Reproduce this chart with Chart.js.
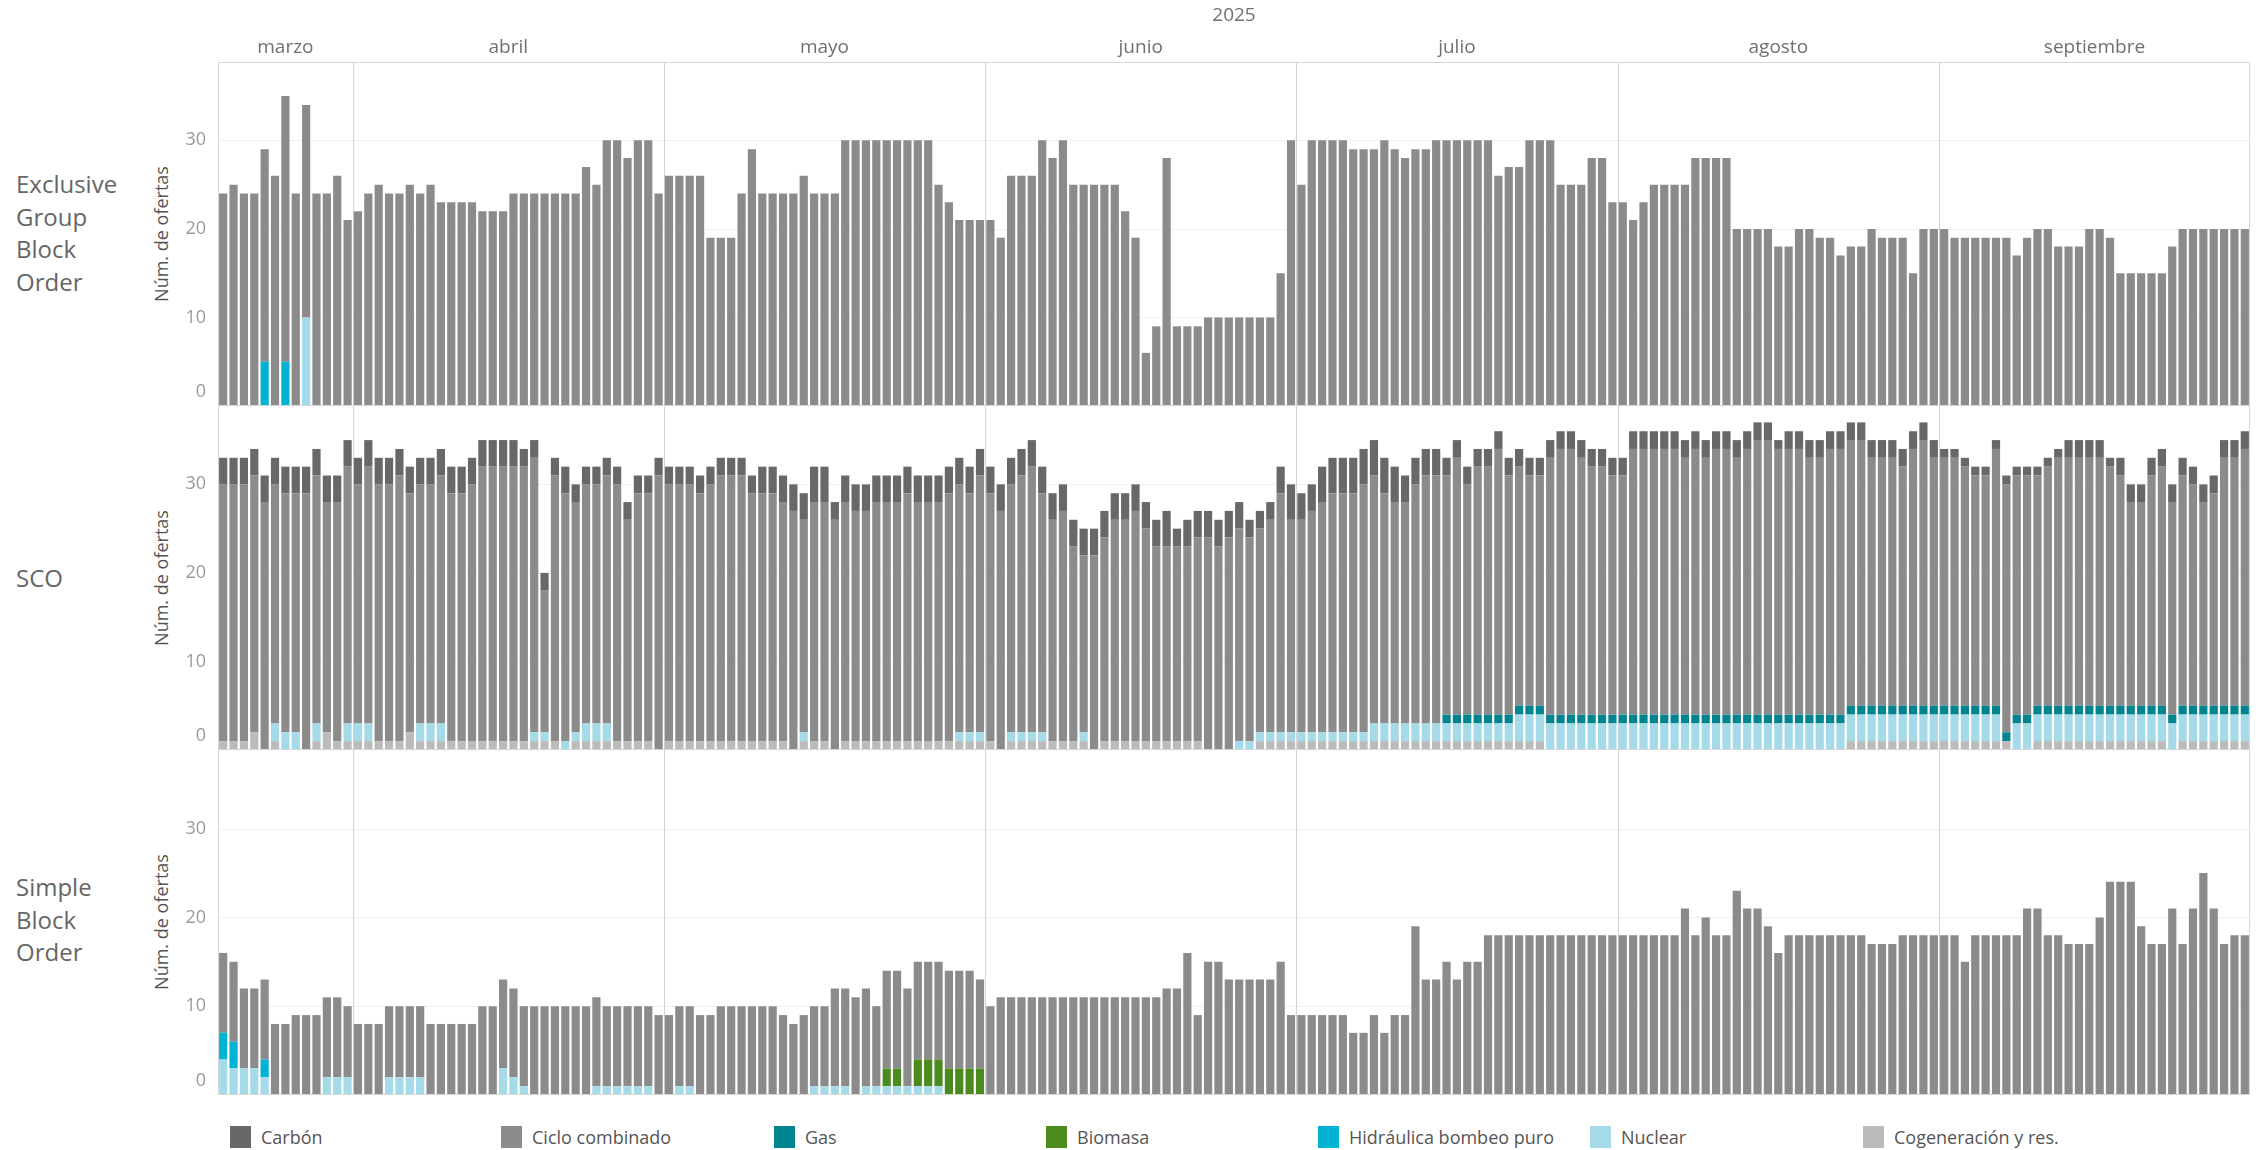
<!DOCTYPE html>
<html lang="es">
<head>
<meta charset="utf-8">
<title>Núm. de ofertas por tipo de oferta y tecnología</title>
<script src="https://cdn.jsdelivr.net/npm/chart.js@4.4.1/dist/chart.umd.min.js"></script>
<style>
  html, body { margin: 0; padding: 0; background: #fff; }
  body { width: 2259px; height: 1150px; position: relative; overflow: hidden;
         font-family: "Open Sans", "Noto Sans", sans-serif; }
  canvas { position: absolute; left: 0; }
  .row-label { position: absolute; left: 16px; color: #666; font-size: 24px; line-height: 32.5px;
               transform: translateY(-50%); }
  .axis-title { position: absolute; left: 161px; color: #555; font-size: 18px; white-space: nowrap;
                transform: translate(-50%, -50%) rotate(-90deg); }
  .legend-item { position: absolute; top: 1126px; height: 22px; display: flex; align-items: center;
                 color: #555; font-size: 18px; white-space: nowrap; }
  .legend-item span { display: inline-block; width: 21px; height: 22px; margin-right: 10px; }
</style>
</head>
<body>

<div class="row-label" style="top:233px">Exclusive<br>Group<br>Block<br>Order</div>
<div class="row-label" style="top:578px">SCO</div>
<div class="row-label" style="top:920px">Simple<br>Block<br>Order</div>

<div class="axis-title" style="top:234px">Núm. de ofertas</div>
<div class="axis-title" style="top:578px">Núm. de ofertas</div>
<div class="axis-title" style="top:922px">Núm. de ofertas</div>

<canvas id="egbo" width="2259" height="406" style="top:0px"></canvas>
<canvas id="sco" width="2259" height="344" style="top:406px"></canvas>
<canvas id="sbo" width="2259" height="345" style="top:750px"></canvas>

<div id="legend"></div>

<script>
// ---------------- CATEGORÍAS ----------------
const yearLabel = "2025";
const monthNames = ["marzo", "abril", "mayo", "junio", "julio", "agosto", "septiembre"];
const monthDayCounts = [13, 30, 31, 30, 31, 31, 30];
const firstDay = 19;
const yTicks = [0, 10, 20, 30];
const yMax = 38.85;

const techNames = ["Carbón", "Ciclo combinado", "Gas", "Biomasa", "Hidráulica bombeo puro", "Nuclear", "Cogeneración y res."];
const techColors = ["#686868", "#8b8b8b", "#008490", "#4b8b1e", "#00b2d3", "#a5dbe9", "#bbbbbb"];

// ---------------- EXCLUSIVE GROUP BLOCK ORDER ----------------
const egboCiclo = [
  24,25,24,24,24,26,30,24,24,24,24,26,21,
  22,24,25,24,24,25,24,25,23,23, 23,23,22,22,22,24,24,24,24,24, 24,24,27,25,30,30,28,30,30,24,
  26,26,26,26,19,19,19,24,29,24, 24,24,24,26,24,24,24,30,30,30, 30,30,30,30,30,30,25,23,21,21, 21,
  21,19,26,26,26,30,28,30,25,25, 25,25,25,22,19,6,9,28,9,9, 9,10,10,10,10,10,10,10,15,30,
  25,30,30,30,30,29,29,29,30,29, 28,29,29,30,30,30,30,30,30,26, 27,27,30,30,30,25,25,25,28,28, 23,
  23,21,23,25,25,25,25,28,28,28, 28,20,20,20,20,18,18,20,20,19, 19,17,18,18,20,19,19,19,15,20, 20,
  20,19,19,19,19,19,19,17,19,20, 20,18,18,18,20,20,19,15,15,15, 15,15,18,20,20,20,20,20,20,20
];
const egboHidraulica = [["23 marzo", 5], ["25 marzo", 5]];
const egboNuclear = [["27 marzo", 10]];

// ---------------- SCO ----------------
const scoCogeneracion = [
  1,1,1,2,0,1,0,0,0,1,2,1,1,
  1,1,1,1,1,2,1,1,1,1, 1,1,1,1,1,1,1,1,1,1, 0,1,1,1,1,1,1,1,1,0,
  1,1,1,1,1,1,1,1,1,1, 1,1,0,1,1,1,0,1,1,1, 1,1,1,1,1,1,1,1,1,1, 1,
  1,0,1,1,1,1,1,1,1,1, 0,1,1,1,1,1,1,1,1,1, 1,0,0,0,0,0,1,1,1,1,
  1,1,1,1,1,1,1,1,1,1, 1,1,1,1,1,1,1,1,1,1, 1,1,1,1,0,0,0,0,0,0, 0,
  0,0,0,0,0,0,0,0,0,0, 0,0,0,0,0,0,0,0,0,0, 0,0,1,1,1,1,1,1,1,1, 1,
  1,1,1,1,1,1,1,0,0,1, 1,1,1,1,1,1,1,1,1,1, 1,1,0,1,1,1,1,1,1,1
];
const scoNuclear = [
  0,0,0,0,0,2,2,2,0,2,0,0,2,
  2,2,0,0,0,0,2,2,2,0, 0,0,0,0,0,0,0,1,1,0, 1,1,2,2,2,0,0,0,0,0,
  0,0,0,0,0,0,0,0,0,0, 0,0,0,1,0,0,0,0,0,0, 0,0,0,0,0,0,0,0,1,1, 1,
  0,0,1,1,1,1,0,0,0,1, 0,0,0,0,0,0,0,0,0,0, 0,0,0,0,1,1,1,1,1,1,
  1,1,1,1,1,1,1,2,2,2, 2,2,2,2,2,2,2,2,2,2, 2,3,3,3,3,3,3,3,3,3, 3,
  3,3,3,3,3,3,3,3,3,3, 3,3,3,3,3,3,3,3,3,3, 3,3,3,3,3,3,3,3,3,3, 3,
  3,3,3,3,3,3,0,3,3,3, 3,3,3,3,3,3,3,3,3,3, 3,3,3,3,3,3,3,3,3,3
];
const scoGas = [
  0,0,0,0,0,0,0,0,0,0,0,0,0,
  0,0,0,0,0,0,0,0,0,0, 0,0,0,0,0,0,0,0,0,0, 0,0,0,0,0,0,0,0,0,0,
  0,0,0,0,0,0,0,0,0,0, 0,0,0,0,0,0,0,0,0,0, 0,0,0,0,0,0,0,0,0,0, 0,
  0,0,0,0,0,0,0,0,0,0, 0,0,0,0,0,0,0,0,0,0, 0,0,0,0,0,0,0,0,0,0,
  0,0,0,0,0,0,0,0,0,0, 0,0,0,0,1,1,1,1,1,1, 1,1,1,1,1,1,1,1,1,1, 1,
  1,1,1,1,1,1,1,1,1,1, 1,1,1,1,1,1,1,1,1,1, 1,1,1,1,1,1,1,1,1,1, 1,
  1,1,1,1,1,1,1,1,1,1, 1,1,1,1,1,1,1,1,1,1, 1,1,1,1,1,1,1,1,1,1
];
const scoCiclo = [
  29,29,29,29,28,27,27,27,29,28,26,27,29,
  27,29,29,29,30,27,27,27,28,28, 28,29,31,31,31,31,31,31,16,30, 28,26,27,27,28,29,25,28,28,31,
  29,29,29,28,29,30,30,30,28,28, 28,27,27,24,27,27,26,27,26,26, 27,27,27,28,27,27,27,28,28,27, 29,
  28,27,28,29,30,27,25,26,22,20, 22,23,25,25,26,24,22,22,22,22, 23,24,23,24,24,23,23,24,27,24,
  24,25,26,27,27,27,28,28,26,25, 25,27,28,28,27,29,26,28,28,30, 27,27,26,26,29,30,30,29,28,28, 27,
  27,30,30,30,30,30,29,30,29,30, 30,29,30,31,31,30,30,30,29,29, 30,30,30,30,28,28,28,27,29,30, 28,
  28,28,27,26,26,29,28,27,27,26, 27,28,28,28,28,28,27,26,23,23, 26,27,24,26,25,23,24,28,28,29
];
const scoCarbon = [
  3,3,3,3,3,3,3,3,3,3,3,3,3,
  3,3,3,3,3,3,3,3,3,3, 3,3,3,3,3,3,2,2,2,2, 3,2,2,2,2,2,2,2,2,2,
  2,2,2,2,2,2,2,2,2,3, 3,3,3,3,4,4,2,3,3,3, 3,3,3,3,3,3,3,3,3,3, 3,
  3,3,3,3,3,3,3,3,3,3, 3,3,3,3,3,3,3,4,2,3, 3,3,3,3,3,2,2,2,3,4,
  3,3,4,4,4,4,4,4,4,4, 3,3,3,3,2,2,2,2,2,2, 2,2,2,2,2,2,2,2,2,2, 2,
  2,2,2,2,2,2,2,2,2,2, 2,2,2,2,2,1,2,2,2,2, 2,2,2,2,2,2,2,2,2,2, 2,
  1,1,1,1,1,1,1,1,1,1, 1,1,2,2,2,2,1,2,2,2, 2,2,2,2,2,2,2,2,2,2
];

// ---------------- SIMPLE BLOCK ORDER ----------------
const sboCiclo = [
  9,9,9,9,9,8,8,9,9,9,9,9,8,
  8,8,8,8,8,8,8,8,8,8, 8,8,10,10,10,10,9,10,10,10, 10,10,10,10,9,9,9,9,9,9,
  9,9,9,9,9,10,10,10,10,10, 10,9,8,9,9,9,11,11,11,11, 9,11,11,11,11,11,11,11,11,11, 10,
  10,11,11,11,11,11,11,11,11,11, 11,11,11,11,11,11,11,12,12,16, 9,15,15,13,13,13,13,13,15,9,
  9,9,9,9,9,7,7,9,7,9, 9,19,13,13,15,13,15,15,18,18, 18,18,18,18,18,18,18,18,18,18, 18,
  18,18,18,18,18,18,21,18,20,18, 18,23,21,21,19,16,18,18,18,18, 18,18,18,18,17,17,17,18,18,18, 18,
  18,18,15,18,18,18,18,18,21,21, 18,18,17,17,17,20,24,24,24,19, 17,17,21,17,21,25,21,17,18,18
];
const sboNuclear = [
  ["19 marzo", 4], ["20 marzo", 3], ["21 marzo", 3], ["22 marzo", 3], ["23 marzo", 2],
  ["29 marzo", 2], ["30 marzo", 2], ["31 marzo", 2],
  ["4 abril", 2], ["5 abril", 2], ["6 abril", 2], ["7 abril", 2],
  ["15 abril", 3], ["16 abril", 2], ["17 abril", 1],
  ["24 abril", 1], ["25 abril", 1], ["26 abril", 1], ["27 abril", 1], ["28 abril", 1], ["29 abril", 1],
  ["2 mayo", 1], ["3 mayo", 1], ["15 mayo", 1], ["16 mayo", 1], ["17 mayo", 1], ["18 mayo", 1],
  ["20 mayo", 1], ["21 mayo", 1], ["22 mayo", 1], ["23 mayo", 1], ["24 mayo", 1],
  ["25 mayo", 1], ["26 mayo", 1], ["27 mayo", 1]
];
const sboHidraulica = [["19 marzo", 3], ["20 marzo", 3], ["23 marzo", 2]];
const sboBiomasa = [
  ["22 mayo", 2], ["23 mayo", 2], ["25 mayo", 3], ["26 mayo", 3], ["27 mayo", 3],
  ["28 mayo", 3], ["29 mayo", 3], ["30 mayo", 3], ["31 mayo", 3]
];

// ---------------- LABELS ----------------
const dayLabels = [];
const monthStartIdx = [];
monthNames.forEach((name, m) => {
  monthStartIdx.push(dayLabels.length);
  const start = m === 0 ? firstDay : 1;
  for (let k = 0; k < monthDayCounts[m]; k++) dayLabels.push(`${start + k} ${name}`);
});

[egboCiclo, scoCogeneracion, scoNuclear, scoGas, scoCiclo, scoCarbon, sboCiclo].forEach((arr, i) => {
  if (arr.length !== dayLabels.length) throw new Error(`serie ${i}: ${arr.length} != ${dayLabels.length}`);
});

const pairs = (list) => list.map(([x, y]) => ({ x, y }));
const color = (name) => techColors[techNames.indexOf(name)];

// ---------------- FRAME / TICKS PLUGIN ----------------
const panelFrame = {
  id: "panelFrame",
  beforeDatasetsDraw(chart) {
    const { ctx, chartArea: a, scales: { x, y } } = chart;
    ctx.save();
    ctx.lineWidth = 1;
    ctx.strokeStyle = "#f0f0f0";
    yTicks.forEach((v) => {
      if (v === 0) return;
      const py = Math.round(y.getPixelForValue(v)) + 0.5;
      ctx.beginPath(); ctx.moveTo(a.left, py); ctx.lineTo(a.right, py); ctx.stroke();
    });
    ctx.strokeStyle = "#d4d4d4";
    monthStartIdx.slice(1).forEach((i) => {
      const px = Math.round((x.getPixelForValue(i - 1) + x.getPixelForValue(i)) / 2) + 0.5;
      ctx.beginPath(); ctx.moveTo(px, a.top); ctx.lineTo(px, a.bottom); ctx.stroke();
    });
    ctx.restore();
  },
  afterDraw(chart, args, opts) {
    const { ctx, chartArea: a, scales: { x, y } } = chart;
    ctx.save();
    ctx.strokeStyle = "#d6d6d6";
    ctx.lineWidth = 1;
    const l = Math.round(a.left) + 0.5, r = Math.round(a.right) - 0.5;
    const t = Math.round(a.top) + 0.5, b = Math.round(a.bottom) - 0.5;
    ctx.beginPath();
    if (opts.header) { ctx.moveTo(l, t); ctx.lineTo(r, t); }
    ctx.moveTo(l, b); ctx.lineTo(r, b);
    ctx.moveTo(l, a.top); ctx.lineTo(l, a.bottom);
    ctx.moveTo(r, a.top); ctx.lineTo(r, a.bottom);
    ctx.stroke();

    ctx.fillStyle = "#9a9a9a";
    ctx.font = '18px "Open Sans"';
    ctx.textAlign = "right";
    ctx.textBaseline = "middle";
    yTicks.forEach((v) => {
      const py = Math.min(y.getPixelForValue(v), a.bottom - 14);
      ctx.fillText(String(v), a.left - 12, py);
    });

    if (opts.header) {
      ctx.fillStyle = "#707070";
      ctx.font = '19px "Open Sans"';
      ctx.textAlign = "center";
      ctx.fillText(yearLabel, (a.left + a.right) / 2, 16);
      monthNames.forEach((name, m) => {
        const i0 = monthStartIdx[m], i1 = i0 + monthDayCounts[m] - 1;
        const cx = (x.getPixelForValue(i0) + x.getPixelForValue(i1)) / 2;
        ctx.fillText(name, cx, 48);
      });
    }
    ctx.restore();
  },
};

// ---------------- PANELS ----------------
function makePanel(id, datasets, header) {
  return new Chart(document.getElementById(id), {
    type: "bar",
    data: {
      labels: dayLabels,
      datasets: datasets.map(([name, data]) => ({
        label: name,
        data,
        backgroundColor: color(name),
        borderWidth: 0,
        barPercentage: 0.79,
        categoryPercentage: 1.0,
      })),
    },
    options: {
      responsive: false,
      animation: false,
      devicePixelRatio: 1,
      layout: { padding: { left: 218, right: 9, top: header ? 62 : 0, bottom: 0 } },
      scales: {
        x: { type: "category", stacked: true, display: false, offset: true },
        y: { stacked: true, min: 0, max: yMax, display: false },
      },
      plugins: {
        legend: { display: false },
        tooltip: { enabled: false },
        panelFrame: { header },
      },
    },
    plugins: [panelFrame],
  });
}

makePanel("egbo", [
  ["Nuclear", pairs(egboNuclear)],
  ["Hidráulica bombeo puro", pairs(egboHidraulica)],
  ["Ciclo combinado", egboCiclo],
], true);

makePanel("sco", [
  ["Cogeneración y res.", scoCogeneracion],
  ["Nuclear", scoNuclear],
  ["Gas", scoGas],
  ["Ciclo combinado", scoCiclo],
  ["Carbón", scoCarbon],
], false);

makePanel("sbo", [
  ["Nuclear", pairs(sboNuclear)],
  ["Hidráulica bombeo puro", pairs(sboHidraulica)],
  ["Biomasa", pairs(sboBiomasa)],
  ["Ciclo combinado", sboCiclo],
], false);

// ---------------- LEGEND ----------------
const legendX = [230, 501, 774, 1046, 1318, 1590, 1863];
const legend = document.getElementById("legend");
techNames.forEach((name, i) => {
  const item = document.createElement("div");
  item.className = "legend-item";
  item.style.left = legendX[i] + "px";
  item.innerHTML = `<span style="background:${techColors[i]}"></span>${name}`;
  legend.appendChild(item);
});
</script>
</body>
</html>
